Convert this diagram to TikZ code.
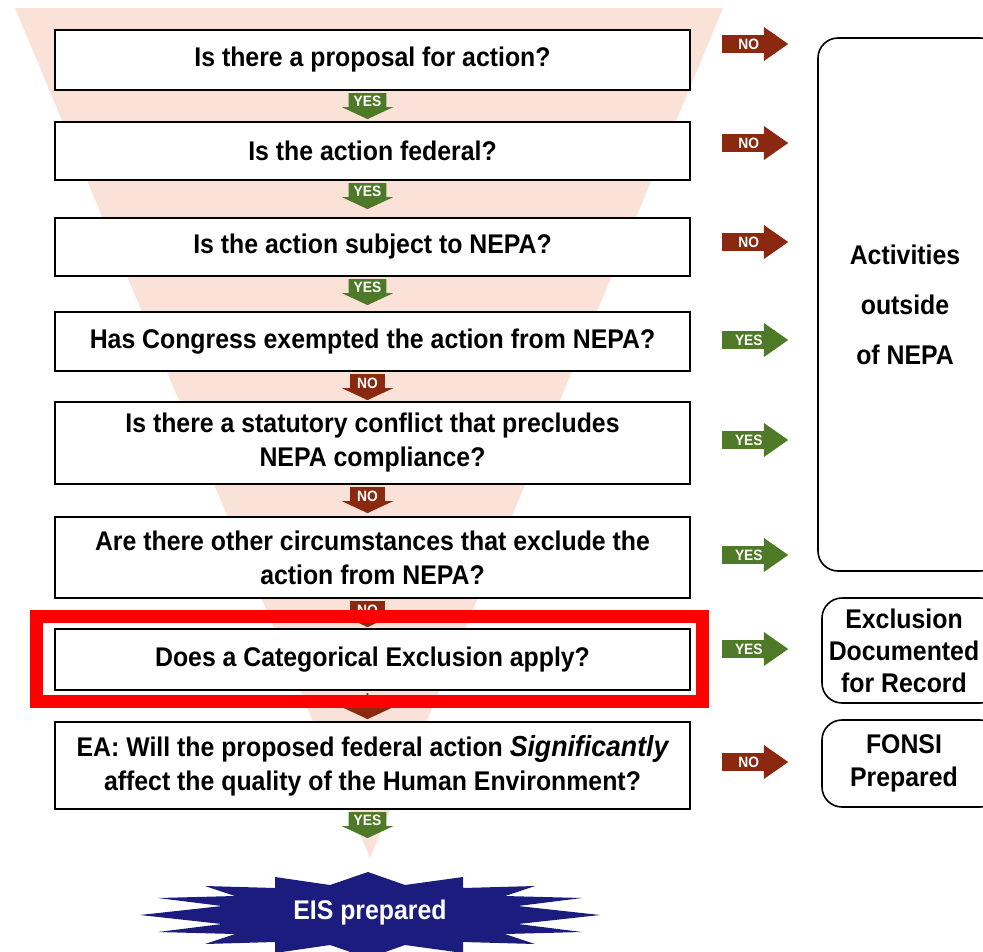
\documentclass[tikz,border=0pt]{standalone}
\usepackage{fontspec}
\setmainfont{Liberation Sans}[FakeStretch=0.92]
\usetikzlibrary{positioning,shapes.arrows}
\definecolor{funnel}{HTML}{FBE2D8}
\definecolor{yesgreen}{HTML}{4E7A27}
\definecolor{nored}{HTML}{8A2810}
\definecolor{starblue}{HTML}{1C1C7E}
\newcommand{\padright}[1]{\rule{#1}{0pt}}

\begin{document}
\begin{tikzpicture}[x=1pt,y=-1pt,node distance=2pt,
    question/.style={draw,line width=1.8pt,fill=white,minimum width=635pt,align=center,inner sep=0pt,font=\fontsize{27}{34}\selectfont\bfseries},
    outcome/.style={draw,line width=1.6pt,rounded corners=20pt,fill=white,align=center,inner sep=0pt},
    arrowlabel/.style={single arrow,single arrow head extend=5pt,inner sep=0pt,text=white,font=\fontsize{15}{15}\selectfont\bfseries}]
          \useasboundingbox (0,0) rectangle (983,951);
          \fill[funnel] (15,8) -- (723,8) -- (370,858) -- cycle;
          \tikzset{yesdown/.style={arrowlabel,fill=yesgreen,shape border rotate=270,minimum height=26pt,minimum width=51pt,single arrow tip angle=130}}
          \tikzset{nodown/.style={yesdown,fill=nored}}
          \tikzset{yesright/.style={arrowlabel,fill=yesgreen,anchor=west,minimum height=66pt,minimum width=34pt,single arrow tip angle=70}}
          \tikzset{noright/.style={yesright,fill=nored}}
          \node[question,minimum height=60pt] (A) at (372.5,60)    {Is there a proposal for action?};
          \node[question,minimum height=58pt] (B) at (372.5,151)   {Is the action federal?};
          \node[question,minimum height=58pt] (C) at (372.5,247)   {Is the action subject to NEPA?};
          \node[question,minimum height=59pt] (D) at (372.5,341.5) {Has Congress exempted the action from NEPA?};
          \node[question,minimum height=82pt] (E) at (372.5,443)   {Is there a statutory conflict that precludes\\NEPA compliance?};
          \node[question,minimum height=81pt] (F) at (372.5,557.5) {Are there other circumstances that exclude the\\action from NEPA?};
          \node[question,minimum height=61pt] (G) at (372.5,659.5) {Does a Categorical Exclusion apply?};
          \node[question,minimum height=87pt] (H) at (372.5,765.5) {EA: Will the proposed federal action {\fontsize{29}{34}\selectfont\itshape Significantly}\\affect the quality of the Human Environment?};
          \node[yesdown] (AB) [below=2pt of A,xshift=-5pt] {YES};
          \node[yesdown] (BC) [below=2pt of B,xshift=-5pt] {YES};
          \node[yesdown] (CD) [below=2pt of C,xshift=-5pt] {YES};
          \node[nodown]  (DE) [below=2pt of D,xshift=-5pt] {NO};
          \node[nodown]  (EF) [below=2pt of E,xshift=-5pt] {NO};
          \node[nodown]  (FG) [below=2pt of F,xshift=-5pt] {NO};
          \node[nodown]  (GH) [below=2pt of G,xshift=-5pt] {};
          \node[yesdown] (HS) [below=2pt of H,xshift=-5pt] {YES};
          \node[noright]  (rA) at (722,44)  {NO};
          \node[noright]  (rB) at (722,143) {NO};
          \node[noright]  (rC) at (722,242) {NO};
          \node[yesright] (rD) at (722,340) {YES};
          \node[yesright] (rE) at (722,440) {YES};
          \node[yesright] (rF) at (722,555) {YES};
          \node[yesright] (rG) at (722,649) {YES};
          \node[noright]  (rH) at (722,762) {NO};
          \node[outcome,minimum width=182pt,minimum height=533pt,font=\fontsize{27}{50}\selectfont\bfseries] (out) at (909,304.5) {Activities\padright{8pt}\\outside\padright{8pt}\\of NEPA\padright{8pt}};
          \node[outcome,minimum width=178pt,minimum height=105pt,font=\fontsize{27}{32}\selectfont\bfseries] (rec) at (911,650.5) {Exclusion\padright{14pt}\\Documented\padright{14pt}\\for Record\padright{14pt}};
          \node[outcome,minimum width=178pt,minimum height=87pt,font=\fontsize{27}{33}\selectfont\bfseries] (fonsi) at (911,763.5) {FONSI\padright{14pt}\\Prepared\padright{14pt}};
          \draw[red,line width=13pt] (36,616) rectangle (702,701);
          \fill[starblue] (140,915) -- (222,906) -- (158,898) -- (235,896) -- (205,886) -- (275,888) -- (275,877)
            -- (330,885) -- (368,872) -- (405,885) -- (463,877) -- (463,888) -- (535,886) -- (505,896)
            -- (582,898) -- (518,906) -- (600,915) -- (518,924) -- (582,932) -- (505,934) -- (535,944)
            -- (463,942) -- (463,953) -- (405,945) -- (368,958) -- (330,945) -- (275,953) -- (275,942)
            -- (205,944) -- (235,934) -- (158,932) -- (222,924) -- cycle;
          \node[text=white,font=\fontsize{27}{27}\selectfont\bfseries] (eis) at (370,913) {EIS prepared};
        \end{tikzpicture}
\end{document}
